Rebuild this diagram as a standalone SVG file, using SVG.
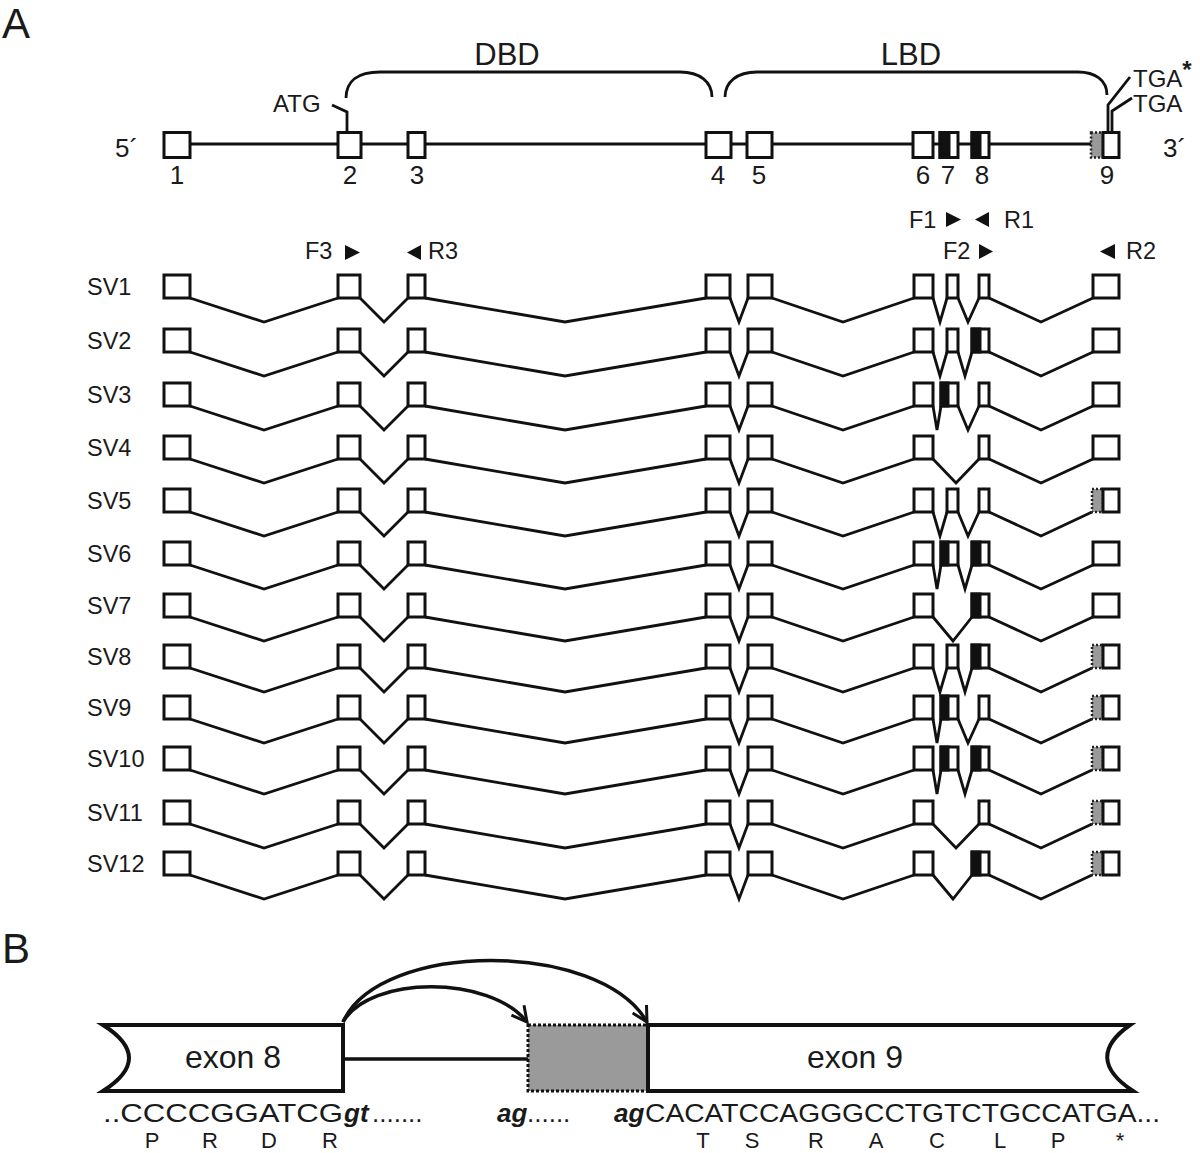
<svg xmlns="http://www.w3.org/2000/svg" width="1200" height="1153" viewBox="0 0 1200 1153">
<style>
text{font-family:"Liberation Sans",Arial,Helvetica,sans-serif;fill:#1a1a1a}
.ex{fill:#fff;stroke:#111;stroke-width:3}
.blk{fill:#111;stroke:#111;stroke-width:3}
.gry{fill:#9a9a9a;stroke:#222;stroke-width:2.5;stroke-dasharray:2,2}
.ln{fill:none;stroke:#111;stroke-width:2.8;stroke-linejoin:miter}
.lbl{font-size:23.5px}
.num{font-size:26px;text-anchor:middle}
.prm{fill:#111}
.exB{fill:#fff;stroke:#111;stroke-width:4}
.seq{font-size:26px}
.bi{font-weight:bold;font-style:italic}
.aa{font-size:22px;text-anchor:middle}
</style>
<defs>
<marker id="arr" viewBox="-20 -12 24 24" refX="0" refY="0" markerWidth="24" markerHeight="24" orient="auto" markerUnits="userSpaceOnUse">
<path d="M-15,-8 L0,0 L-15,8" fill="none" stroke="#111" stroke-width="3"/>
</marker>
</defs>
<rect width="1200" height="1153" fill="#fff"/>

<!-- Panel A -->
<text x="2" y="38" font-size="42">A</text>

<!-- gene model -->
<g id="gene">
<line x1="190" y1="144" x2="1092" y2="144" class="ln"/>
<rect class="ex" x="164" y="132.5" width="26" height="25"/>
<rect class="ex" x="338" y="132.5" width="23" height="25"/>
<rect class="ex" x="408" y="132.5" width="17" height="25"/>
<rect class="ex" x="706" y="132.5" width="25" height="25"/>
<rect class="ex" x="747" y="132.5" width="25" height="25"/>
<rect class="ex" x="913" y="132.5" width="20" height="25"/>
<rect class="ex" x="940" y="132.5" width="18" height="25"/>
<rect class="blk" x="940" y="132.5" width="9" height="25"/>
<rect class="ex" x="972" y="132.5" width="17" height="25"/>
<rect class="blk" x="972" y="132.5" width="8" height="25"/>
<rect class="gry" x="1091" y="132.5" width="12" height="25"/>
<rect class="ex" x="1103" y="132.5" width="16" height="25"/>
<text x="115" y="157" font-size="26">5´</text>
<text x="1163" y="157" font-size="26">3´</text>
<text class="num" x="177" y="184">1</text>
<text class="num" x="350" y="184">2</text>
<text class="num" x="417" y="184">3</text>
<text class="num" x="718" y="184">4</text>
<text class="num" x="759" y="184">5</text>
<text class="num" x="923" y="184">6</text>
<text class="num" x="948" y="184">7</text>
<text class="num" x="982" y="184">8</text>
<text class="num" x="1107" y="184">9</text>
<text x="273" y="112" font-size="24">ATG</text>
<polyline class="ln" points="332,105 347,112 347,132"/>
<text x="1133" y="87" font-size="24">TGA<tspan font-weight="bold" dy="-9">*</tspan></text>
<polyline class="ln" points="1130,77 1108,105 1108,132"/>
<text x="1133" y="112" font-size="24">TGA</text>
<polyline class="ln" points="1132,98 1112,111 1112,132"/>
<path class="ln" d="M346,98 C346,81 358,72 380,72 L680,72 C700,72 712,82 712,97"/>
<path class="ln" d="M725,97 C725,82 737,72 757,72 L1078,72 C1095,72 1107,80 1107,95"/>
<text x="507" y="65" font-size="31" text-anchor="middle">DBD</text>
<text x="911" y="65" font-size="31" text-anchor="middle">LBD</text>
</g>

<!-- primers -->
<g id="primers">
<text class="lbl" x="305" y="259">F3</text>
<polygon class="prm" points="345,245 360,252.5 345,260"/>
<polygon class="prm" points="421,245 407,252.5 421,260"/>
<text class="lbl" x="428" y="259">R3</text>
<text class="lbl" x="909" y="228">F1</text>
<polygon class="prm" points="946,212 961,219.5 946,227"/>
<polygon class="prm" points="989,212 975,219.5 989,227"/>
<text class="lbl" x="1004" y="228">R1</text>
<text class="lbl" x="943" y="259">F2</text>
<polygon class="prm" points="979,244 993,251.5 979,259"/>
<polygon class="prm" points="1115,244 1100,251.5 1115,259"/>
<text class="lbl" x="1126" y="259">R2</text>
</g>

<!-- connectors (introns spliced out) -->
<g id="connectors">
<path class="ln" d="M190,298 L264,322 L338,298 M360,298 L384,322 L408,298 M425,298 L565,322 L706,298 M730,298 L739,322 L748,298 M772,298 L843,322 L914,298 M933,298 L940,322 L947,298 M958,298 L968,322 L979,298 M989,298 L1041,322 L1093,298"/>
<path class="ln" d="M190,352 L264,376 L338,352 M360,352 L384,376 L408,352 M425,352 L565,376 L706,352 M730,352 L739,376 L748,352 M772,352 L843,376 L914,352 M933,352 L940,376 L947,352 M958,352 L965,376 L972,352 M989,352 L1041,376 L1093,352"/>
<path class="ln" d="M190,406 L264,430 L338,406 M360,406 L384,430 L408,406 M425,406 L565,430 L706,406 M730,406 L739,430 L748,406 M772,406 L843,430 L914,406 M933,406 L937,430 L941,406 M958,406 L968,430 L979,406 M989,406 L1041,430 L1093,406"/>
<path class="ln" d="M190,459 L264,483 L338,459 M360,459 L384,483 L408,459 M425,459 L565,483 L706,459 M730,459 L739,483 L748,459 M772,459 L843,483 L914,459 M933,459 L956,483 L979,459 M989,459 L1041,483 L1093,459"/>
<path class="ln" d="M190,512 L264,536 L338,512 M360,512 L384,536 L408,512 M425,512 L565,536 L706,512 M730,512 L739,536 L748,512 M772,512 L843,536 L914,512 M933,512 L940,536 L947,512 M958,512 L968,536 L979,512 M989,512 L1041,536 L1092,512"/>
<path class="ln" d="M190,565 L264,589 L338,565 M360,565 L384,589 L408,565 M425,565 L565,589 L706,565 M730,565 L739,589 L748,565 M772,565 L843,589 L914,565 M933,565 L937,589 L941,565 M958,565 L965,589 L972,565 M989,565 L1041,589 L1093,565"/>
<path class="ln" d="M190,617 L264,641 L338,617 M360,617 L384,641 L408,617 M425,617 L565,641 L706,617 M730,617 L739,641 L748,617 M772,617 L843,641 L914,617 M933,617 L953,641 L972,617 M989,617 L1041,641 L1093,617"/>
<path class="ln" d="M190,668 L264,692 L338,668 M360,668 L384,692 L408,668 M425,668 L565,692 L706,668 M730,668 L739,692 L748,668 M772,668 L843,692 L914,668 M933,668 L940,692 L947,668 M958,668 L965,692 L972,668 M989,668 L1041,692 L1092,668"/>
<path class="ln" d="M190,719 L264,743 L338,719 M360,719 L384,743 L408,719 M425,719 L565,743 L706,719 M730,719 L739,743 L748,719 M772,719 L843,743 L914,719 M933,719 L937,743 L941,719 M958,719 L968,743 L979,719 M989,719 L1041,743 L1092,719"/>
<path class="ln" d="M190,770 L264,794 L338,770 M360,770 L384,794 L408,770 M425,770 L565,794 L706,770 M730,770 L739,794 L748,770 M772,770 L843,794 L914,770 M933,770 L937,794 L941,770 M958,770 L965,794 L972,770 M989,770 L1041,794 L1092,770"/>
<path class="ln" d="M190,824 L264,848 L338,824 M360,824 L384,848 L408,824 M425,824 L565,848 L706,824 M730,824 L739,848 L748,824 M772,824 L843,848 L914,824 M933,824 L956,848 L979,824 M989,824 L1041,848 L1092,824"/>
<path class="ln" d="M190,875 L264,899 L338,875 M360,875 L384,899 L408,875 M425,875 L565,899 L706,875 M730,875 L739,899 L748,875 M772,875 L843,899 L914,875 M933,875 L953,899 L972,875 M989,875 L1041,899 L1092,875"/>
</g>

<!-- SV rows -->
<g id="sv1">
<text class="lbl" x="87" y="295">SV1</text>
<rect class="ex" x="164" y="275" width="26" height="23"/><rect class="ex" x="338" y="275" width="22" height="23"/><rect class="ex" x="408" y="275" width="17" height="23"/><rect class="ex" x="706" y="275" width="24" height="23"/><rect class="ex" x="748" y="275" width="24" height="23"/><rect class="ex" x="914" y="275" width="19" height="23"/>
<rect class="ex" x="947" y="275" width="11" height="23"/>
<rect class="ex" x="979" y="275" width="10" height="23"/>
<rect class="ex" x="1093" y="275" width="26" height="23"/>
</g>
<g id="sv2">
<text class="lbl" x="87" y="349">SV2</text>
<rect class="ex" x="164" y="329" width="26" height="23"/><rect class="ex" x="338" y="329" width="22" height="23"/><rect class="ex" x="408" y="329" width="17" height="23"/><rect class="ex" x="706" y="329" width="24" height="23"/><rect class="ex" x="748" y="329" width="24" height="23"/><rect class="ex" x="914" y="329" width="19" height="23"/>
<rect class="ex" x="947" y="329" width="11" height="23"/>
<rect class="ex" x="972" y="329" width="17" height="23"/><rect class="blk" x="972" y="329" width="8" height="23"/>
<rect class="ex" x="1093" y="329" width="26" height="23"/>
</g>
<g id="sv3">
<text class="lbl" x="87" y="403">SV3</text>
<rect class="ex" x="164" y="383" width="26" height="23"/><rect class="ex" x="338" y="383" width="22" height="23"/><rect class="ex" x="408" y="383" width="17" height="23"/><rect class="ex" x="706" y="383" width="24" height="23"/><rect class="ex" x="748" y="383" width="24" height="23"/><rect class="ex" x="914" y="383" width="19" height="23"/>
<rect class="ex" x="941" y="383" width="17" height="23"/><rect class="blk" x="941" y="383" width="7" height="23"/>
<rect class="ex" x="979" y="383" width="10" height="23"/>
<rect class="ex" x="1093" y="383" width="26" height="23"/>
</g>
<g id="sv4">
<text class="lbl" x="87" y="456">SV4</text>
<rect class="ex" x="164" y="436" width="26" height="23"/><rect class="ex" x="338" y="436" width="22" height="23"/><rect class="ex" x="408" y="436" width="17" height="23"/><rect class="ex" x="706" y="436" width="24" height="23"/><rect class="ex" x="748" y="436" width="24" height="23"/><rect class="ex" x="914" y="436" width="19" height="23"/>
<rect class="ex" x="979" y="436" width="10" height="23"/>
<rect class="ex" x="1093" y="436" width="26" height="23"/>
</g>
<g id="sv5">
<text class="lbl" x="87" y="509">SV5</text>
<rect class="ex" x="164" y="489" width="26" height="23"/><rect class="ex" x="338" y="489" width="22" height="23"/><rect class="ex" x="408" y="489" width="17" height="23"/><rect class="ex" x="706" y="489" width="24" height="23"/><rect class="ex" x="748" y="489" width="24" height="23"/><rect class="ex" x="914" y="489" width="19" height="23"/>
<rect class="ex" x="947" y="489" width="11" height="23"/>
<rect class="ex" x="979" y="489" width="10" height="23"/>
<rect class="gry" x="1092" y="489" width="11" height="23"/><rect class="ex" x="1103" y="489" width="16" height="23"/>
</g>
<g id="sv6">
<text class="lbl" x="87" y="562">SV6</text>
<rect class="ex" x="164" y="542" width="26" height="23"/><rect class="ex" x="338" y="542" width="22" height="23"/><rect class="ex" x="408" y="542" width="17" height="23"/><rect class="ex" x="706" y="542" width="24" height="23"/><rect class="ex" x="748" y="542" width="24" height="23"/><rect class="ex" x="914" y="542" width="19" height="23"/>
<rect class="ex" x="941" y="542" width="17" height="23"/><rect class="blk" x="941" y="542" width="7" height="23"/>
<rect class="ex" x="972" y="542" width="17" height="23"/><rect class="blk" x="972" y="542" width="8" height="23"/>
<rect class="ex" x="1093" y="542" width="26" height="23"/>
</g>
<g id="sv7">
<text class="lbl" x="87" y="614">SV7</text>
<rect class="ex" x="164" y="594" width="26" height="23"/><rect class="ex" x="338" y="594" width="22" height="23"/><rect class="ex" x="408" y="594" width="17" height="23"/><rect class="ex" x="706" y="594" width="24" height="23"/><rect class="ex" x="748" y="594" width="24" height="23"/><rect class="ex" x="914" y="594" width="19" height="23"/>
<rect class="ex" x="972" y="594" width="17" height="23"/><rect class="blk" x="972" y="594" width="8" height="23"/>
<rect class="ex" x="1093" y="594" width="26" height="23"/>
</g>
<g id="sv8">
<text class="lbl" x="87" y="665">SV8</text>
<rect class="ex" x="164" y="645" width="26" height="23"/><rect class="ex" x="338" y="645" width="22" height="23"/><rect class="ex" x="408" y="645" width="17" height="23"/><rect class="ex" x="706" y="645" width="24" height="23"/><rect class="ex" x="748" y="645" width="24" height="23"/><rect class="ex" x="914" y="645" width="19" height="23"/>
<rect class="ex" x="947" y="645" width="11" height="23"/>
<rect class="ex" x="972" y="645" width="17" height="23"/><rect class="blk" x="972" y="645" width="8" height="23"/>
<rect class="gry" x="1092" y="645" width="11" height="23"/><rect class="ex" x="1103" y="645" width="16" height="23"/>
</g>
<g id="sv9">
<text class="lbl" x="87" y="716">SV9</text>
<rect class="ex" x="164" y="696" width="26" height="23"/><rect class="ex" x="338" y="696" width="22" height="23"/><rect class="ex" x="408" y="696" width="17" height="23"/><rect class="ex" x="706" y="696" width="24" height="23"/><rect class="ex" x="748" y="696" width="24" height="23"/><rect class="ex" x="914" y="696" width="19" height="23"/>
<rect class="ex" x="941" y="696" width="17" height="23"/><rect class="blk" x="941" y="696" width="7" height="23"/>
<rect class="ex" x="979" y="696" width="10" height="23"/>
<rect class="gry" x="1092" y="696" width="11" height="23"/><rect class="ex" x="1103" y="696" width="16" height="23"/>
</g>
<g id="sv10">
<text class="lbl" x="87" y="767">SV10</text>
<rect class="ex" x="164" y="747" width="26" height="23"/><rect class="ex" x="338" y="747" width="22" height="23"/><rect class="ex" x="408" y="747" width="17" height="23"/><rect class="ex" x="706" y="747" width="24" height="23"/><rect class="ex" x="748" y="747" width="24" height="23"/><rect class="ex" x="914" y="747" width="19" height="23"/>
<rect class="ex" x="941" y="747" width="17" height="23"/><rect class="blk" x="941" y="747" width="7" height="23"/>
<rect class="ex" x="972" y="747" width="17" height="23"/><rect class="blk" x="972" y="747" width="8" height="23"/>
<rect class="gry" x="1092" y="747" width="11" height="23"/><rect class="ex" x="1103" y="747" width="16" height="23"/>
</g>
<g id="sv11">
<text class="lbl" x="87" y="821">SV11</text>
<rect class="ex" x="164" y="801" width="26" height="23"/><rect class="ex" x="338" y="801" width="22" height="23"/><rect class="ex" x="408" y="801" width="17" height="23"/><rect class="ex" x="706" y="801" width="24" height="23"/><rect class="ex" x="748" y="801" width="24" height="23"/><rect class="ex" x="914" y="801" width="19" height="23"/>
<rect class="ex" x="979" y="801" width="10" height="23"/>
<rect class="gry" x="1092" y="801" width="11" height="23"/><rect class="ex" x="1103" y="801" width="16" height="23"/>
</g>
<g id="sv12">
<text class="lbl" x="87" y="872">SV12</text>
<rect class="ex" x="164" y="852" width="26" height="23"/><rect class="ex" x="338" y="852" width="22" height="23"/><rect class="ex" x="408" y="852" width="17" height="23"/><rect class="ex" x="706" y="852" width="24" height="23"/><rect class="ex" x="748" y="852" width="24" height="23"/><rect class="ex" x="914" y="852" width="19" height="23"/>
<rect class="ex" x="972" y="852" width="17" height="23"/><rect class="blk" x="972" y="852" width="8" height="23"/>
<rect class="gry" x="1092" y="852" width="11" height="23"/><rect class="ex" x="1103" y="852" width="16" height="23"/>
</g>

<!-- Panel B -->
<text x="2" y="963" font-size="42">B</text>
<g id="b-connectors">
<line x1="343" y1="1059" x2="528" y2="1059" stroke="#111" stroke-width="3.5"/>
<path d="M343,1022 C370,975 490,975 527,1022" fill="none" stroke="#111" stroke-width="3.5" marker-end="url(#arr)"/>
<path d="M343,1022 C380,940 600,940 647,1022" fill="none" stroke="#111" stroke-width="3.5" marker-end="url(#arr)"/>
</g>
<g id="exon8">
<path class="exB" d="M103,1025 L343,1025 L343,1091 L103,1091 Q155,1058 103,1025 Z"/>
<text x="233" y="1068" font-size="32" text-anchor="middle">exon 8</text>
</g>
<g id="cryptic">
<rect x="528" y="1025" width="120" height="66" fill="#9a9a9a" stroke="#111" stroke-width="3" stroke-dasharray="3,2"/>
</g>
<g id="exon9">
<path class="exB" d="M648,1025 L1130,1025 Q1083,1058 1133,1091 L648,1091 Z"/>
<text x="855" y="1068" font-size="32" text-anchor="middle">exon 9</text>
</g>
<g id="sequence">
<text class="seq" x="103" y="1122" textLength="240" lengthAdjust="spacingAndGlyphs">..CCCCGGATCG</text>
<text class="seq bi" x="344" y="1122">gt</text>
<text class="seq" x="372" y="1122">.......</text>
<text class="seq bi" x="497" y="1122">ag</text>
<text class="seq" x="527" y="1122">......</text>
<text class="seq bi" x="614" y="1122">ag</text>
<text class="seq" x="645" y="1122" textLength="515" lengthAdjust="spacingAndGlyphs">CACATCCAGGGCCTGTCTGCCATGA...</text>
<text class="aa" x="152" y="1148">P</text>
<text class="aa" x="210" y="1148">R</text>
<text class="aa" x="269" y="1148">D</text>
<text class="aa" x="330" y="1148">R</text>
<text class="aa" x="703" y="1148">T</text>
<text class="aa" x="752" y="1148">S</text>
<text class="aa" x="816" y="1148">R</text>
<text class="aa" x="876" y="1148">A</text>
<text class="aa" x="937" y="1148">C</text>
<text class="aa" x="1000" y="1148">L</text>
<text class="aa" x="1058" y="1148">P</text>
<text class="aa" x="1120" y="1148">*</text>
</g>
</svg>
